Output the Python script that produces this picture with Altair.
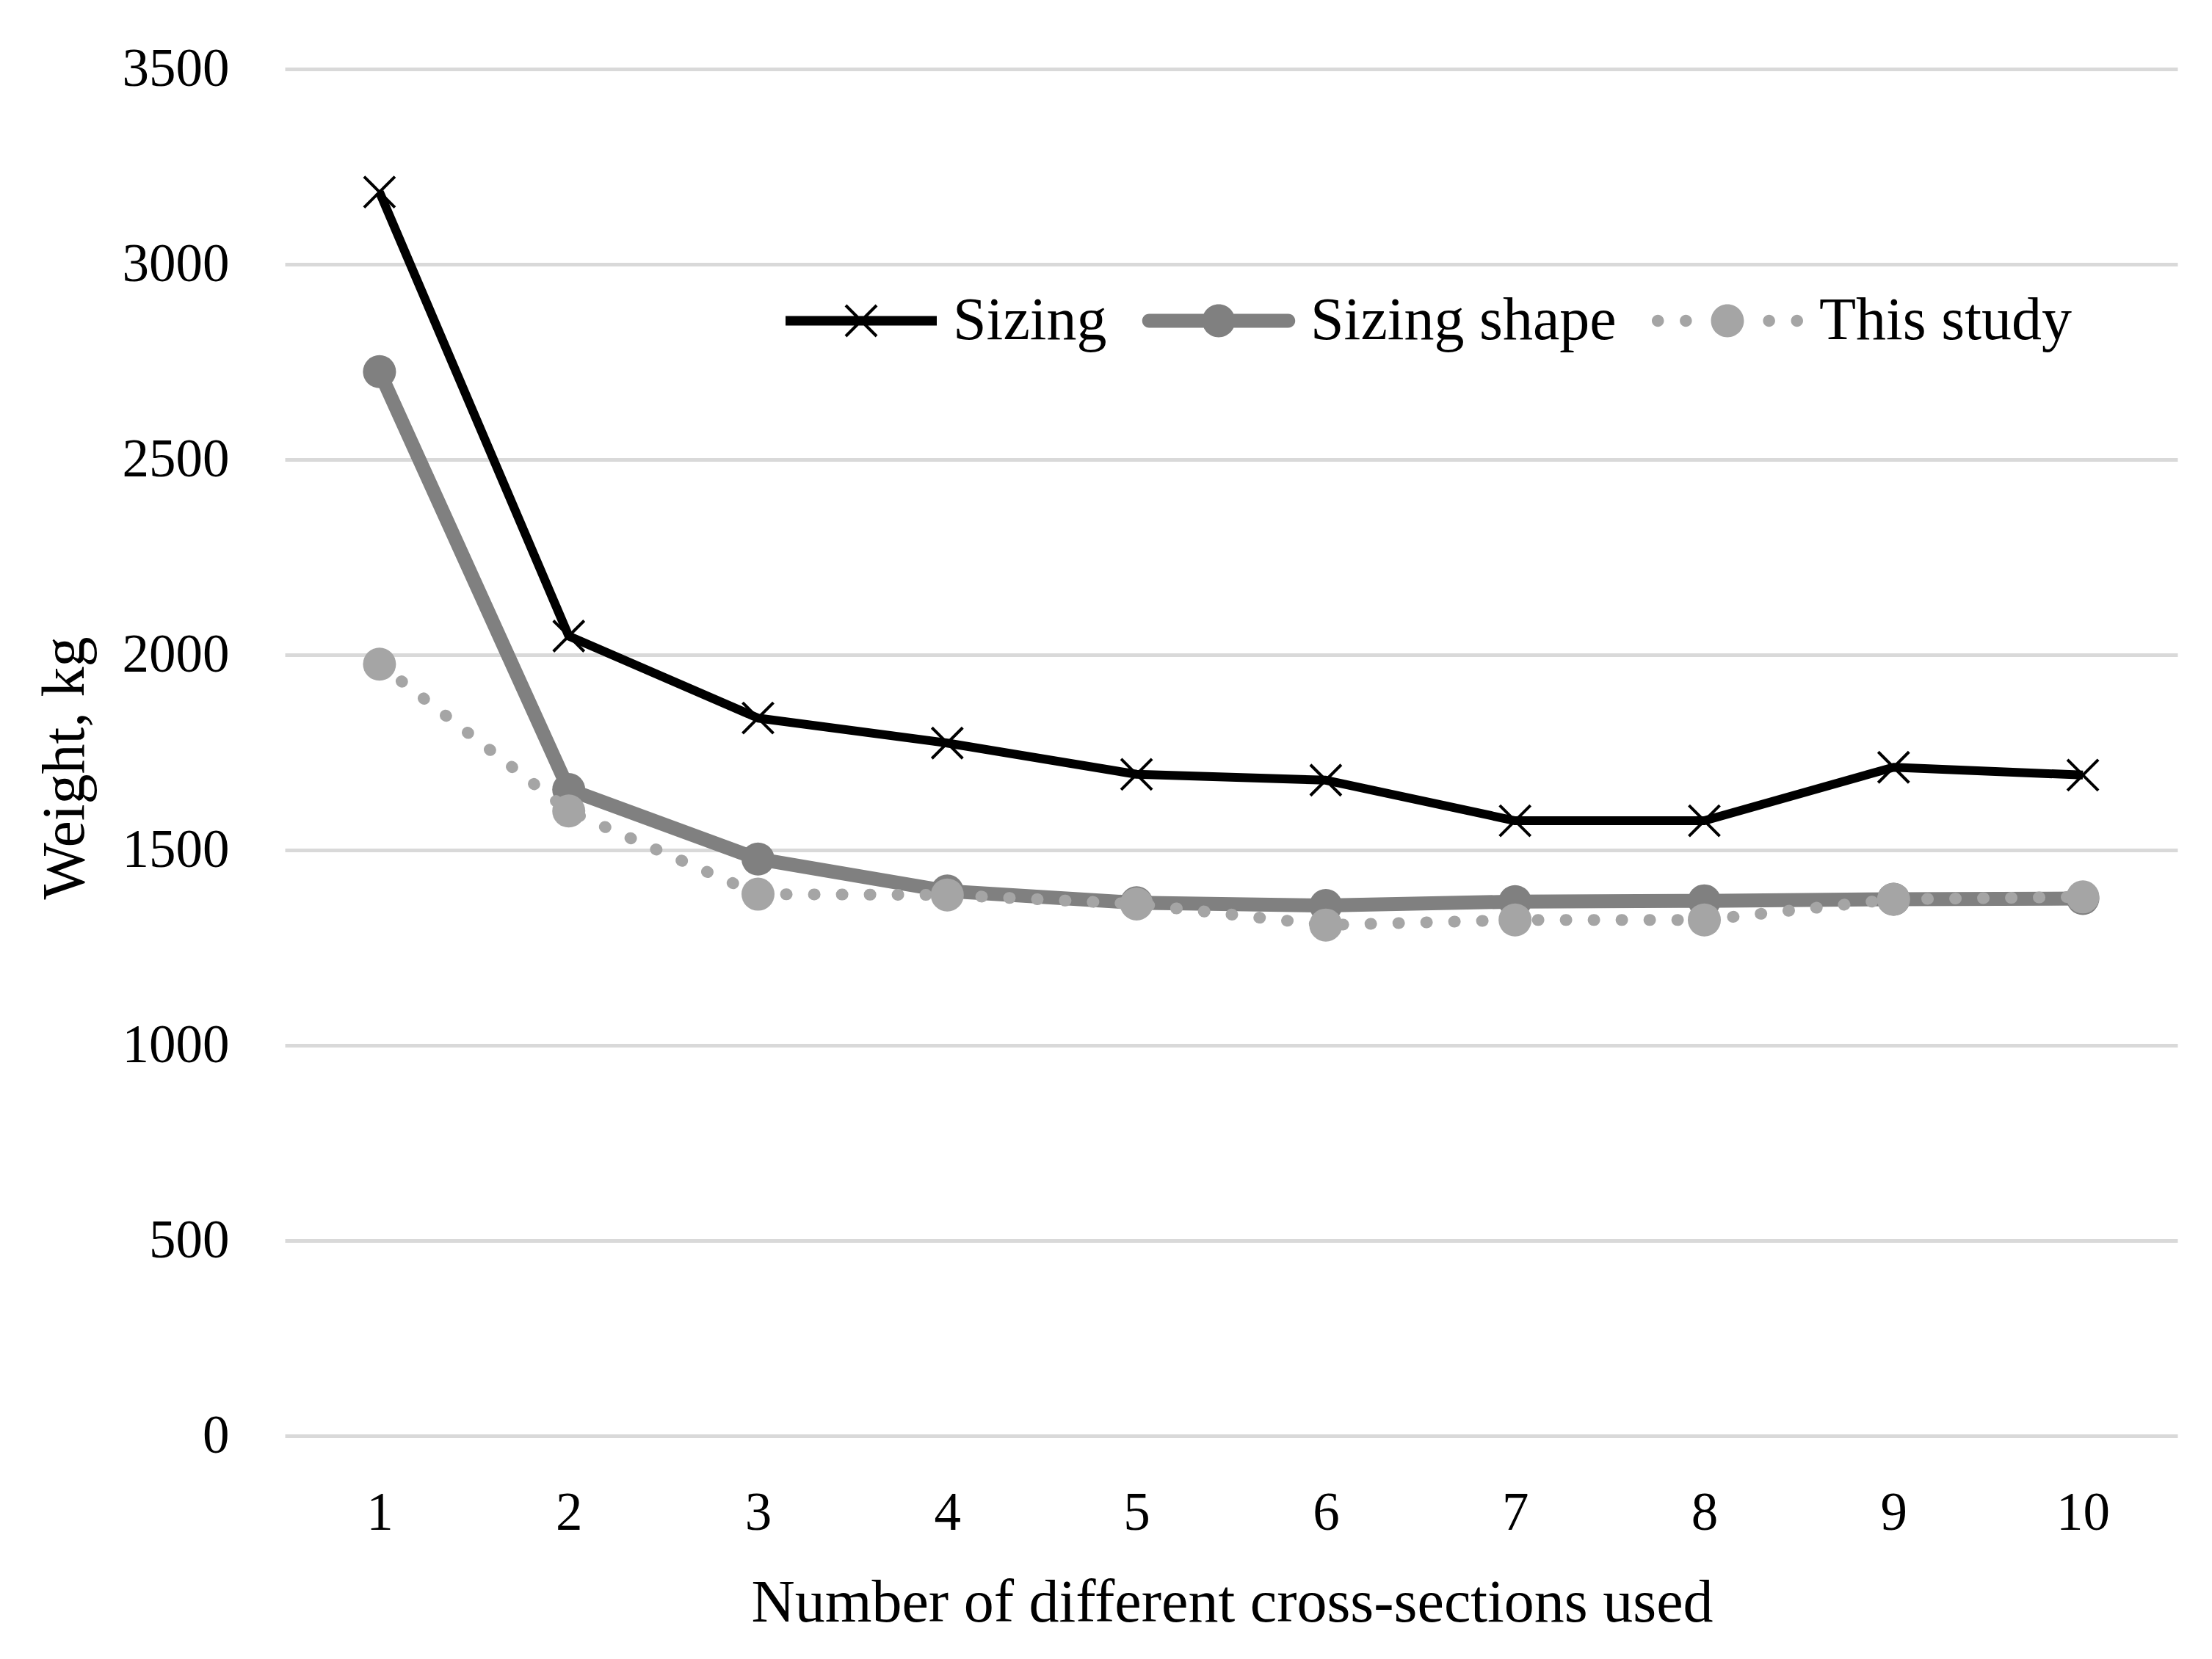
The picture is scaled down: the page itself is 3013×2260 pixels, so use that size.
import altair as alt
import pandas as pd

# ---- data ----
n_sections = [1, 2, 3, 4, 5, 6, 7, 8, 9, 10]
sizing = [3185, 2048, 1838, 1774, 1694, 1679, 1575, 1575, 1712, 1692]
sizing_shape = [2725, 1655, 1477, 1395, 1365, 1358, 1368, 1370, 1374, 1376]
this_study = [1976, 1600, 1387, 1385, 1362, 1308, 1321, 1321, 1374, 1380]

series_names = ["Sizing", "Sizing shape", "This study"]
series_colors = ["#000000", "#808080", "#A5A5A5"]
y_ticks = [0, 500, 1000, 1500, 2000, 2500, 3000, 3500]

rows = []
for name, vals in zip(series_names, [sizing, sizing_shape, this_study]):
    for n, v in zip(n_sections, vals):
        rows.append({"series": name, "n": n, "w": v})
df = pd.DataFrame(rows)

FONT = "Liberation Serif"

# legend symbols: line + marker drawn as filled custom paths (unit box -1..1)
leg_sizing = ("M-1,-0.063H1V0.063H-1Z "
              "M-0.19,-0.218L0.218,0.19L0.19,0.218L-0.218,-0.19Z "
              "M0.19,-0.218L0.218,-0.19L-0.19,0.218L-0.218,0.19Z")
leg_shape = ("M-0.92,-0.092H0.92A0.092,0.092 0 0 1 0.92,0.092H-0.92A0.092,0.092 0 0 1 -0.92,-0.092Z "
             "M-0.218,0A0.218,0.218 0 1 1 0.218,0A0.218,0.218 0 1 1 -0.218,0Z")
def dot(cx, r):
    return f"M{cx - r},0A{r},{r} 0 1 1 {cx + r},0A{r},{r} 0 1 1 {cx - r},0Z"
leg_study = " ".join([dot(-0.92, 0.08), dot(-0.55, 0.08), dot(0, 0.218),
                      dot(0.55, 0.08), dot(0.92, 0.08)])

x_enc = alt.X(
    "n:O",
    scale=alt.Scale(type="point", padding=0.5),
    axis=alt.Axis(
        title="Number of different cross-sections used",
        labelAngle=0, ticks=False, domain=False, grid=False,
        labelFont=FONT, labelFontSize=73, labelColor="#000000",
        labelPadding=127, labelBaseline="alphabetic",
        titleFont=FONT, titleFontSize=82, titleFontWeight="normal",
        titleColor="#000000", titleX=1290, titleY=252,
        titleBaseline="alphabetic", titleAlign="center",
    ),
)
y_enc = alt.Y(
    "w:Q",
    scale=alt.Scale(domain=[0, 3500], nice=False),
    axis=alt.Axis(
        title="Weight, kg", values=y_ticks, format="d",
        ticks=False, tickSize=0, domain=False,
        grid=True, gridColor="#D9D9D9", gridWidth=5,
        labelFont=FONT, labelFontSize=73, labelColor="#000000",
        labelPadding=76,
        titleFont=FONT, titleFontSize=82, titleFontWeight="normal",
        titleColor="#000000", titleX=-275, titleY=952, titleAngle=270,
        titleBaseline="alphabetic", titleAlign="center",
    ),
)

base = alt.Chart(df).encode(x=x_enc, y=y_enc)

def sel(name):
    return base.transform_filter(alt.datum.series == name)

shape_line = sel("Sizing shape").mark_line(color="#808080", strokeWidth=19,
                                           strokeCap="round", strokeJoin="round")
shape_pts = sel("Sizing shape").mark_point(shape="circle", filled=True, color="#808080",
                                           size=2025, opacity=1)
study_line = sel("This study").mark_line(color="#A5A5A5", strokeWidth=16,
                                         strokeCap="round", strokeDash=[1, 37])
study_pts = sel("This study").mark_point(shape="circle", filled=True, color="#A5A5A5",
                                         size=2025, opacity=1)
sizing_line = sel("Sizing").mark_line(color="#000000", strokeWidth=12, strokeJoin="round")
sizing_pts = sel("Sizing").mark_point(shape="M-1,-1L1,1M-1,1L1,-1", filled=False,
                                      color="#000000", strokeWidth=4, size=1764, opacity=1)

leg = alt.Legend(
    orient="none", legendX=682, legendY=240, direction="horizontal",
    title=None, labelFont=FONT, labelFontSize=82, labelColor="#000000",
    labelLimit=0,
    symbolSize=42436, symbolStrokeWidth=0, symbolOpacity=1,
    labelOffset=22, columnPadding=47, padding=0,
)
legend_layer = base.transform_filter("datum.w < 0").mark_point(filled=True, opacity=1).encode(
    color=alt.Color("series:N", scale=alt.Scale(domain=series_names, range=series_colors),
                    legend=leg),
    shape=alt.Shape("series:N",
                    scale=alt.Scale(domain=series_names, range=[leg_sizing, leg_shape, leg_study]),
                    legend=leg),
)

chart = alt.layer(
    shape_line, shape_pts, study_line, study_pts, sizing_line, sizing_pts, legend_layer
).properties(
    width=2578, height=1862,
    autosize=alt.AutoSizeParams(type="none"),
    padding={"left": 380, "top": 86, "right": 39, "bottom": 296},
    background="#FFFFFF",
).configure_view(stroke=None)

chart.save("out.html", embed_options={"renderer": "svg", "actions": False})
